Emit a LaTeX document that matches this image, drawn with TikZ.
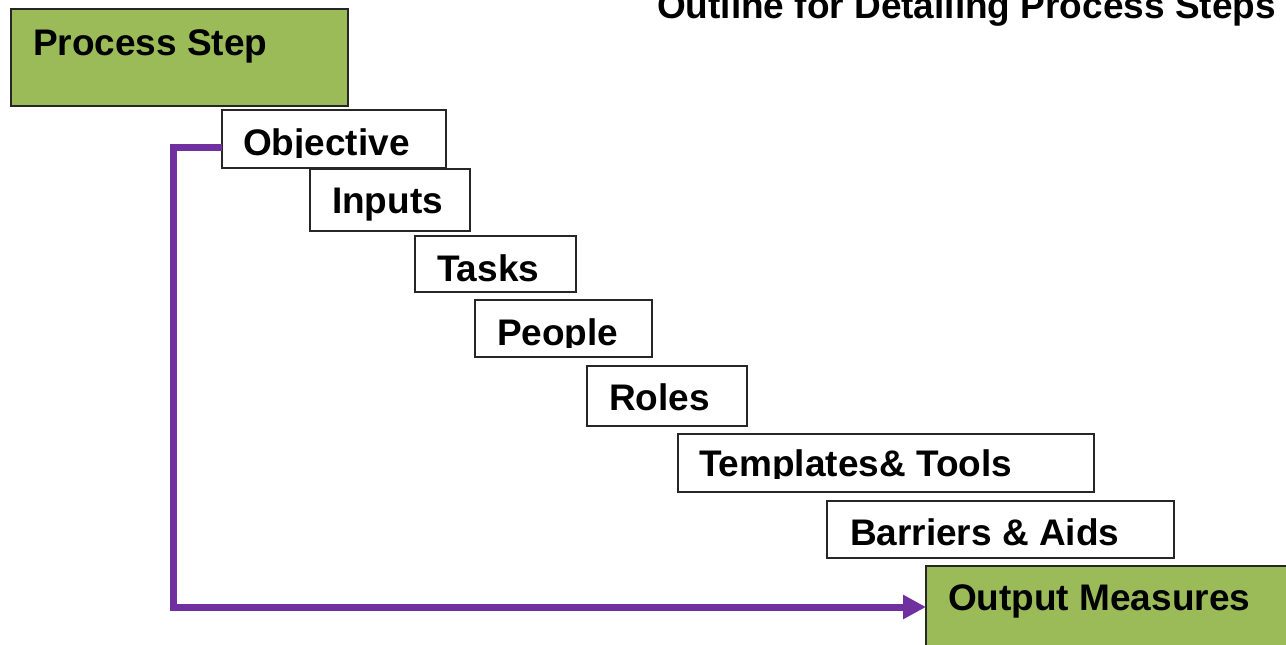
\documentclass[tikz,border=0pt]{standalone}
\usepackage{fontspec}
\setmainfont{Liberation Sans}
\usetikzlibrary{arrows.meta}
\definecolor{stepgreen}{HTML}{9BBB59}
\definecolor{linkpurple}{HTML}{7030A0}
\tikzset{
  boxw/.style={draw=black!85, line width=1.5pt, fill=white, inner sep=0pt, outer sep=0pt, anchor=north west},
  boxg/.style={boxw, fill=stepgreen},
  lbl/.style={anchor=base west, inner sep=0pt, outer sep=0pt, font=\fontsize{37}{40}\selectfont\bfseries},
  flow/.style={draw=linkpurple, line width=7pt, line join=miter,
    -{Triangle[length=23pt,width=23pt]}}
}
\begin{document}
\begin{tikzpicture}[x=1pt,y=-1pt]
\useasboundingbox (0,0) rectangle (1286,645);
\clip (0,0) rectangle (1286,645);
\fill[white] (0,0) rectangle (1286,645);
% boxes
\node[boxg, minimum width=337pt, minimum height=97pt] (step) at (11,9) {};
\node[boxw, minimum width=224pt, minimum height=58pt] (obj) at (222,110) {};
\node[boxw, minimum width=160pt, minimum height=62pt] (inp) at (310,169) {};
\node[boxw, minimum width=161pt, minimum height=56pt] (task) at (415,236) {};
\node[boxw, minimum width=177pt, minimum height=57pt] (ppl) at (475,300) {};
\node[boxw, minimum width=160pt, minimum height=60pt] (role) at (587,366) {};
\node[boxw, minimum width=416pt, minimum height=58pt] (tmpl) at (678,434) {};
\node[boxw, minimum width=347pt, minimum height=57pt] (bar) at (827,501) {};
\node[boxg, minimum width=380pt, minimum height=100pt] (out) at (926,566) {};
% labels
\node[lbl] (title) at (657,18) {Outline for Detailing Process Steps};
\node[lbl] (tstep) at (33,55) {Process Step};
\begin{scope}
  \clip (222,110) rectangle (446,157.5);
  \node[lbl] (tobj) at (243,155) {Objective};
\end{scope}
\node[lbl] (tinp) at (332,213) {Inputs};
\node[lbl] (ttask) at (437,281) {Tasks};
\begin{scope}
  \clip (475,300) rectangle (652,347.5);
  \node[lbl] (tppl) at (497,345) {People};
\end{scope}
\node[lbl] (trole) at (609,410) {Roles};
\begin{scope}
  \clip (678,434) rectangle (1094,478.5);
  \node[lbl] (ttmpl) at (699,476) {Templates\& Tools};
\end{scope}
\node[lbl] (tbar) at (850,545) {Barriers \& Aids};
\node[lbl] (tout) at (948,610) {Output Measures};
% connector
\coordinate (start) at (obj.west |- 0,147.5);
\coordinate (tip) at (out.west |- 0,607);
\draw[flow] (start) -- (173.5,147.5) -- (173.5,607) -- (tip);
\end{tikzpicture}
\end{document}
